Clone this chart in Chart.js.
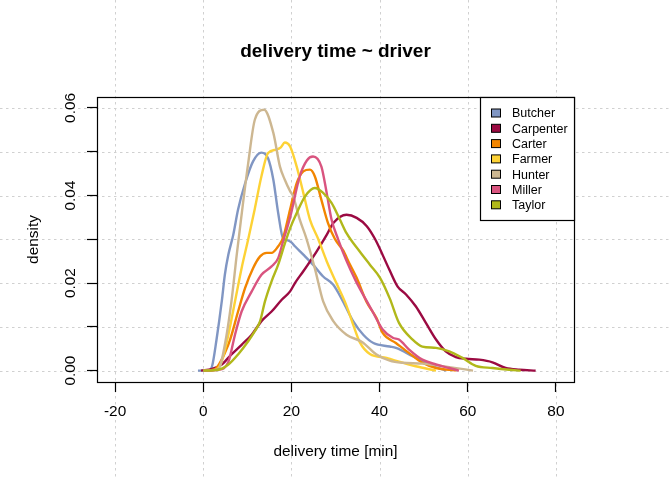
<!DOCTYPE html>
<html>
<head>
<meta charset="utf-8">
<script src="https://cdn.jsdelivr.net/npm/chart.js@4/dist/chart.umd.min.js"></script>
<style>
  html, body { margin: 0; padding: 0; background: #fff; }
  #wrap { width: 672px; height: 480px; }
</style>
</head>
<body>
<div id="wrap"><canvas id="chart" width="672" height="480"></canvas></div>
<script>
// ——— DATA ———
const drivers = ['Butcher', 'Carpenter', 'Carter', 'Farmer', 'Hunter', 'Miller', 'Taylor'];
const xTicks = [-20, 0, 20, 40, 60, 80];
const yTicks = [0, 0.01, 0.02, 0.03, 0.04, 0.05, 0.06];
const yLabelled = [0, 0.02, 0.04, 0.06];

const butcherTime    = [-1.2, 1.1, 2.0, 3.0, 4.2, 4.9, 5.7, 6.8, 7.9, 9.5, 11.3, 13.2, 14.7, 15.9, 17.0, 18.1, 19.0, 20.0, 20.8, 22.7, 24.9, 27.2, 29.5, 31.7, 34.0, 36.3, 38.6, 42.3, 43.7, 47.5, 51.2, 55.0];
const butcherDensity = [0, 0, 0.001, 0.007, 0.0158, 0.0219, 0.0265, 0.031, 0.0368, 0.0428, 0.0478, 0.0498, 0.0485, 0.0436, 0.036, 0.0302, 0.0298, 0.0293, 0.0284, 0.0265, 0.0242, 0.0215, 0.0196, 0.0158, 0.0113, 0.0082, 0.0063, 0.0055, 0.0052, 0.0033, 0.0014, 0];

const carpenterTime    = [-0.5, 2.0, 4.2, 6.4, 8.7, 11.0, 13.2, 15.5, 17.8, 19.7, 20.8, 22.7, 25.7, 28.0, 29.5, 32.5, 34.8, 37.1, 39.0, 42.2, 44.1, 46.0, 48.2, 50.5, 52.8, 55.0, 57.3, 59.6, 62.6, 65.6, 68.6, 71.7, 75.4];
const carpenterDensity = [0, 0.0004, 0.0014, 0.0037, 0.0059, 0.0082, 0.0113, 0.0135, 0.0162, 0.0181, 0.020, 0.0227, 0.0272, 0.031, 0.0337, 0.0356, 0.0349, 0.033, 0.030, 0.0231, 0.0192, 0.0174, 0.0147, 0.0109, 0.0071, 0.0044, 0.0031, 0.0027, 0.0025, 0.0019, 0.0006, 0.0002, 0];

const carterTime    = [0, 2.5, 3.8, 4.9, 6.1, 7.9, 9.5, 11.3, 12.9, 14.4, 15.5, 17.0, 18.1, 19.7, 21.2, 22.7, 24.2, 25.3, 26.8, 28.3, 29.9, 31.7, 33.1, 34.8, 37.0, 39.3, 40.7, 43.7, 46.7, 49.7, 52.8, 57.3];
const carterDensity = [0, 0.0002, 0.0018, 0.004, 0.0071, 0.0135, 0.0189, 0.0234, 0.0261, 0.0269, 0.0269, 0.0284, 0.0303, 0.0368, 0.0428, 0.0455, 0.0459, 0.0444, 0.039, 0.0337, 0.030, 0.0275, 0.0246, 0.0212, 0.0158, 0.012, 0.0086, 0.0063, 0.004, 0.0018, 0.0006, 0];

const farmerTime    = [0, 3.0, 4.2, 5.7, 7.2, 8.7, 10.2, 11.7, 13.2, 14.7, 16.6, 17.6, 18.5, 19.7, 21.2, 22.7, 24.2, 26.1, 28.0, 30.2, 32.5, 34.0, 35.5, 37.8, 41.6, 42.9, 48.2, 52.8];
const farmerDensity = [0, 0.0003, 0.0021, 0.0082, 0.0158, 0.0234, 0.030, 0.037, 0.0444, 0.0497, 0.0505, 0.051, 0.0521, 0.0512, 0.0466, 0.0406, 0.0345, 0.030, 0.025, 0.020, 0.0148, 0.0105, 0.0065, 0.0038, 0.0029, 0.0025, 0.001, 0];

const hunterTime    = [0, 3.4, 4.9, 6.4, 7.6, 8.5, 10.2, 11.7, 13.8, 15.9, 17.4, 18.5, 19.7, 20.4, 21.9, 23.3, 25.3, 27.2, 29.5, 32.5, 36.1, 39.3, 42.3, 45.2, 49.7, 55.8, 61.2];
const hunterDensity = [0, 0.0003, 0.0059, 0.0158, 0.0265, 0.034, 0.0474, 0.0573, 0.0596, 0.0543, 0.0466, 0.0436, 0.041, 0.0398, 0.0345, 0.0305, 0.0234, 0.0158, 0.0113, 0.0082, 0.0065, 0.0037, 0.0023, 0.0018, 0.0016, 0.0008, 0];

const millerTime    = [0, 3.4, 5.7, 7.2, 8.7, 11.0, 13.2, 15.5, 17.0, 18.1, 19.7, 21.9, 23.5, 24.9, 26.8, 28.0, 29.1, 30.6, 32.4, 34.6, 36.9, 38.4, 40.7, 43.0, 44.4, 46.7, 49.7, 52.8, 55.8, 58.0];
const millerDensity = [0, 0.0002, 0.002, 0.0082, 0.0135, 0.0181, 0.0219, 0.0238, 0.0257, 0.0295, 0.035, 0.0444, 0.048, 0.0489, 0.0466, 0.0406, 0.0345, 0.030, 0.0253, 0.0205, 0.0162, 0.0135, 0.0094, 0.0075, 0.0071, 0.0048, 0.0025, 0.0014, 0.0006, 0];

const taylorTime    = [0, 3.4, 5.7, 7.9, 10.2, 11.7, 12.9, 14.0, 15.5, 17.0, 18.5, 19.7, 21.2, 23.1, 25.3, 27.2, 29.1, 31.0, 32.5, 35.5, 37.8, 40.1, 42.3, 44.4, 47.5, 49.7, 52.8, 55.8, 58.8, 61.8, 65.6, 69.4, 72.0];
const taylorDensity = [0, 0.0002, 0.0014, 0.0037, 0.0067, 0.009, 0.0113, 0.0158, 0.0204, 0.0242, 0.029, 0.0325, 0.036, 0.0398, 0.0417, 0.0406, 0.0383, 0.0345, 0.0314, 0.0272, 0.0242, 0.0212, 0.0165, 0.0109, 0.0071, 0.0055, 0.0052, 0.0044, 0.0029, 0.0011, 0.0006, 0.0002, 0];

const seriesTime    = [butcherTime, carpenterTime, carterTime, farmerTime, hunterTime, millerTime, taylorTime];
const seriesDensity = [butcherDensity, carpenterDensity, carterDensity, farmerDensity, hunterDensity, millerDensity, taylorDensity];
const colors = ['#8096C3', '#9B0A42', '#F28500', '#FDD235', '#CDB791', '#D9547F', '#B1B81A'];

// ——— STYLE ———
const FONT = "'Liberation Sans', Arial, sans-serif";
const GRID = '#D0D0D0';

const datasets = drivers.map((name, i) => ({
  label: name,
  data: seriesTime[i].map((t, j) => ({ x: t, y: seriesDensity[i][j] })),
  borderColor: colors[i],
  backgroundColor: colors[i],
  borderWidth: 2.4,
  pointRadius: 0,
  cubicInterpolationMode: 'monotone',
  fill: false,
  order: drivers.length - i,   // later drivers drawn on top, like R
}));

// dotted grid over the whole canvas, drawn first
const bgGrid = {
  id: 'bgGrid',
  beforeDraw(chart) {
    const { ctx, scales: { x, y } } = chart;
    ctx.save();
    ctx.fillStyle = '#fff';
    ctx.fillRect(0, 0, chart.width, chart.height);
    ctx.strokeStyle = GRID;
    ctx.lineWidth = 1;
    ctx.setLineDash([2.5, 3.5]);
    xTicks.forEach(v => {
      const px = Math.round(x.getPixelForValue(v)) + 0.5;
      ctx.beginPath(); ctx.moveTo(px, 0); ctx.lineTo(px, chart.height); ctx.stroke();
    });
    yTicks.forEach(v => {
      const py = Math.round(y.getPixelForValue(v)) + 0.5;
      ctx.beginPath(); ctx.moveTo(0, py); ctx.lineTo(chart.width, py); ctx.stroke();
    });
    ctx.restore();
  }
};

// box, legend, titles, y labels
const decor = {
  id: 'decor',
  afterDraw(chart) {
    const { ctx, chartArea: a, scales: { y } } = chart;
    ctx.save();
    ctx.strokeStyle = '#000';
    ctx.lineWidth = 1.2;
    ctx.strokeRect(Math.round(a.left) + 0.5, Math.round(a.top) + 0.5,
                   Math.round(a.right - a.left), Math.round(a.bottom - a.top));

    // legend
    const lx = a.right - 94, ly = a.top;
    ctx.fillStyle = '#fff';
    ctx.fillRect(lx, ly, 94, 123);
    ctx.strokeRect(Math.round(lx) + 0.5, Math.round(ly) + 0.5, 94, 123);
    ctx.font = `12.5px ${FONT}`;
    ctx.textBaseline = 'middle';
    ctx.textAlign = 'left';
    chart.data.datasets.forEach((ds, i) => {
      const cy = ly + 16.5 + i * 15.3;
      ctx.fillStyle = ds.borderColor;
      ctx.fillRect(lx + 11.5, cy - 4.5, 9, 8);
      ctx.lineWidth = 1;
      ctx.strokeRect(lx + 11.5, cy - 4.5, 9, 8);
      ctx.fillStyle = '#000';
      ctx.fillText(ds.label, lx + 32, cy + 0.5);
    });

    // title and axis titles
    const cx = (a.left + a.right) / 2;
    ctx.fillStyle = '#000';
    ctx.textAlign = 'center';
    ctx.textBaseline = 'alphabetic';
    ctx.font = `bold 19px ${FONT}`;
    ctx.fillText('delivery time ~ driver', cx, 57);
    ctx.font = `15.4px ${FONT}`;
    ctx.fillText('delivery time [min]', cx, 455.5);

    ctx.save();
    ctx.translate(38, (a.top + a.bottom) / 2);
    ctx.rotate(-Math.PI / 2);
    ctx.fillText('density', 0, 0);
    ctx.restore();

    yLabelled.forEach(v => {
      ctx.save();
      ctx.translate(75, y.getPixelForValue(v));
      ctx.rotate(-Math.PI / 2);
      ctx.fillText(v.toFixed(2), 0, 0);
      ctx.restore();
    });
    ctx.restore();
  }
};

new Chart(document.getElementById('chart'), {
  type: 'line',
  data: { datasets },
  options: {
    responsive: false,
    animation: false,
    devicePixelRatio: 1,
    layout: { padding: { left: 0, top: 97, right: 98, bottom: 0 } },
    plugins: { legend: { display: false }, title: { display: false }, tooltip: { enabled: false } },
    scales: {
      x: {
        type: 'linear', min: -24.1, max: 84.1,
        afterFit: s => { s.height = 98; },
        afterBuildTicks: s => { s.ticks = xTicks.map(v => ({ value: v })); },
        grid: { drawOnChartArea: false, tickLength: 10, tickColor: '#000', tickWidth: 1.2 },
        border: { display: false },
        ticks: { color: '#000', padding: 10.5, maxRotation: 0, autoSkip: false,
                 font: { family: FONT, size: 15.4 }, callback: v => String(v) }
      },
      y: {
        type: 'linear', min: -0.0026, max: 0.0625,
        afterFit: s => { s.width = 97; },
        afterBuildTicks: s => { s.ticks = yTicks.map(v => ({ value: v })); },
        grid: { drawOnChartArea: false, tickLength: 10, tickColor: '#000', tickWidth: 1.2 },
        border: { display: false },
        ticks: { display: false }
      }
    }
  },
  plugins: [bgGrid, decor]
});
</script>
</body>
</html>
